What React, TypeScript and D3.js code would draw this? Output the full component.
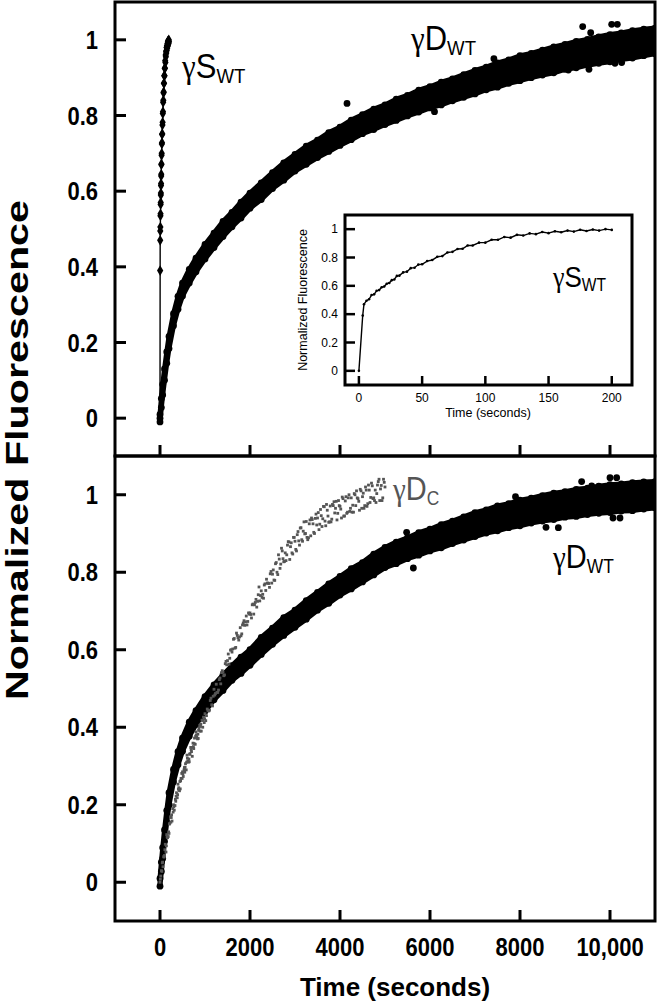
import React from "react";
import * as d3 from "d3";

// ---- gamma-D wild type: sampled band (centre + half spread), both panels ----
const dwtTime = [0, 30, 60, 100, 150, 200, 300, 400, 500, 650, 800, 1000, 1200, 1400, 1600, 1800, 2000, 2250, 2500, 2750, 3000, 3250, 3500, 3750, 4000, 4250, 4500, 4750, 5000, 5250, 5500, 5750, 6000, 6250, 6500, 6750, 7000, 7250, 7500, 7750, 8000, 8250, 8500, 8750, 9000, 9250, 9500, 9750, 10000, 10250, 10500, 10750, 11000];
const dwtTopMid = [0, 0.04, 0.075, 0.115, 0.16, 0.2, 0.26, 0.305, 0.34, 0.375, 0.405, 0.44, 0.47, 0.5, 0.525, 0.55, 0.575, 0.6, 0.628, 0.652, 0.675, 0.695, 0.712, 0.73, 0.745, 0.762, 0.777, 0.79, 0.802, 0.815, 0.826, 0.838, 0.848, 0.858, 0.868, 0.878, 0.888, 0.898, 0.907, 0.916, 0.925, 0.932, 0.94, 0.947, 0.955, 0.961, 0.967, 0.973, 0.978, 0.983, 0.988, 0.993, 0.997];
const dwtBotMid = [0, 0.04, 0.075, 0.12, 0.17, 0.215, 0.275, 0.32, 0.355, 0.395, 0.425, 0.46, 0.49, 0.515, 0.54, 0.56, 0.58, 0.61, 0.635, 0.66, 0.68, 0.703, 0.725, 0.745, 0.765, 0.783, 0.8, 0.82, 0.838, 0.85, 0.862, 0.873, 0.883, 0.893, 0.903, 0.913, 0.923, 0.931, 0.939, 0.946, 0.953, 0.959, 0.965, 0.97, 0.975, 0.979, 0.983, 0.987, 0.99, 0.993, 0.995, 0.998, 1.0];
const dwtSpread = [0.01, 0.012, 0.014, 0.015, 0.015, 0.016, 0.016, 0.017, 0.017, 0.018, 0.018, 0.019, 0.019, 0.02, 0.019, 0.021, 0.02, 0.022, 0.021, 0.023, 0.022, 0.024, 0.023, 0.025, 0.024, 0.026, 0.025, 0.027, 0.026, 0.028, 0.027, 0.029, 0.028, 0.03, 0.029, 0.03, 0.031, 0.03, 0.032, 0.031, 0.033, 0.032, 0.033, 0.034, 0.033, 0.035, 0.034, 0.035, 0.036, 0.035, 0.036, 0.035, 0.034];
const dwtTopOutliers = [[4156, 0.832], [9393, 1.035], [9571, 1.019], [10037, 1.041], [10163, 1.041], [9074, 0.92], [9533, 0.922], [10111, 0.938], [10260, 0.94], [7420, 0.95], [6100, 0.81]];
const dwtBotOutliers = [[9370, 1.034], [9593, 1.023], [10000, 1.044], [10148, 1.044], [8578, 0.916], [8852, 0.915], [10067, 0.94], [10222, 0.94], [5630, 0.811], [5481, 0.903], [7900, 0.995]];

// ---- gamma-S wild type (top panel trace and inset) ----
const swtTime = [0, 3, 4, 6, 8, 10, 12, 14, 16, 18, 20, 22, 24, 26, 28, 30, 32, 35, 38, 41, 44, 47, 50, 54, 58, 62, 66, 70, 74, 78, 82, 86, 90, 95, 100, 105, 110, 115, 120, 125, 130, 135, 140, 145, 150, 155, 160, 165, 170, 175, 180, 185, 190, 195, 200];
const swtVal = [0, 0.39, 0.47, 0.495, 0.505, 0.535, 0.54, 0.565, 0.57, 0.59, 0.595, 0.615, 0.62, 0.64, 0.645, 0.67, 0.672, 0.695, 0.7, 0.725, 0.728, 0.75, 0.752, 0.775, 0.782, 0.805, 0.81, 0.835, 0.84, 0.86, 0.862, 0.885, 0.885, 0.905, 0.905, 0.925, 0.925, 0.945, 0.94, 0.96, 0.955, 0.97, 0.965, 0.98, 0.972, 0.985, 0.978, 0.99, 0.983, 0.996, 0.987, 0.998, 0.99, 1.0, 0.995];

// ---- gamma-D C (grey scatter), run 1 [time, value] ----
const dcRun1 = [
  [0, 0.0], [17, 0.016], [33, 0.03], [50, 0.05], [67, 0.04], [83, 0.066], [100, 0.069], [117, 0.098], [133, 0.078],
  [150, 0.123], [167, 0.115], [183, 0.118], [200, 0.126], [217, 0.152], [233, 0.169], [250, 0.167], [267, 0.158], [283, 0.19],
  [300, 0.2], [317, 0.186], [333, 0.198], [350, 0.209], [367, 0.231], [383, 0.218], [400, 0.253], [417, 0.244], [433, 0.236],
  [450, 0.241], [467, 0.268], [483, 0.281], [500, 0.285], [517, 0.273], [533, 0.29], [550, 0.284], [567, 0.306], [583, 0.29],
  [600, 0.328], [617, 0.312], [633, 0.31], [650, 0.311], [667, 0.332], [683, 0.348], [700, 0.337], [717, 0.325], [733, 0.359],
  [750, 0.345], [767, 0.372], [783, 0.356], [800, 0.388], [817, 0.374], [833, 0.37], [850, 0.371], [867, 0.398], [883, 0.405],
  [900, 0.402], [917, 0.39], [933, 0.418], [950, 0.4], [967, 0.426], [983, 0.412], [1000, 0.435], [1033, 0.43], [1067, 0.443],
  [1100, 0.444], [1133, 0.475], [1167, 0.455], [1200, 0.498], [1233, 0.487], [1267, 0.49], [1300, 0.496], [1333, 0.527], [1367, 0.541],
  [1400, 0.542], [1433, 0.535], [1467, 0.57], [1500, 0.572], [1533, 0.563], [1567, 0.599], [1600, 0.594], [1633, 0.627], [1667, 0.604],
  [1700, 0.643], [1733, 0.631], [1767, 0.633], [1800, 0.636], [1833, 0.664], [1867, 0.675], [1900, 0.672], [1933, 0.664], [1967, 0.695],
  [2000, 0.695], [2033, 0.682], [2067, 0.718], [2100, 0.716], [2133, 0.73], [2167, 0.725], [2200, 0.762], [2233, 0.74], [2267, 0.735],
  [2300, 0.733], [2333, 0.77], [2367, 0.782], [2400, 0.772], [2433, 0.761], [2467, 0.802], [2500, 0.795], [2533, 0.78], [2567, 0.822],
  [2600, 0.8], [2633, 0.845], [2667, 0.81], [2700, 0.862], [2733, 0.835], [2767, 0.828], [2800, 0.83], [2833, 0.87], [2867, 0.878],
  [2900, 0.866], [2933, 0.85], [2967, 0.89], [3000, 0.88], [3033, 0.855], [3067, 0.905], [3100, 0.87], [3133, 0.915], [3167, 0.88],
  [3200, 0.93], [3233, 0.9], [3267, 0.89], [3300, 0.889], [3333, 0.935], [3367, 0.94], [3400, 0.925], [3433, 0.9], [3467, 0.95],
  [3500, 0.94], [3533, 0.91], [3567, 0.962], [3600, 0.918], [3633, 0.97], [3667, 0.932], [3700, 0.975], [3733, 0.945], [3767, 0.93],
  [3800, 0.93], [3833, 0.975], [3867, 0.982], [3900, 0.965], [3933, 0.935], [3967, 0.985], [4000, 0.97], [4033, 0.94], [4067, 0.99],
  [4100, 0.945], [4133, 0.995], [4167, 0.955], [4200, 1.0], [4233, 0.965], [4267, 0.955], [4300, 0.955], [4333, 1.0], [4367, 1.01],
  [4400, 0.99], [4433, 0.96], [4467, 1.01], [4500, 0.995], [4533, 0.965], [4567, 1.02], [4600, 0.97], [4633, 1.025], [4667, 0.98],
  [4700, 1.03], [4733, 0.99], [4767, 0.985], [4800, 0.98], [4833, 1.025], [4867, 1.04], [4900, 1.015], [4933, 0.985], [4967, 1.04],
  [5000, 1.02],
];

// ---- gamma-D C (grey scatter), run 2 [time, value] ----
const dcRun2 = [
  [8, 0.008], [42, 0.028], [58, 0.052], [92, 0.065], [108, 0.084], [142, 0.094], [158, 0.117], [192, 0.13],
  [208, 0.15], [242, 0.155], [258, 0.174], [292, 0.181], [308, 0.195], [342, 0.214], [358, 0.222], [392, 0.226],
  [408, 0.24], [442, 0.26], [458, 0.262], [492, 0.268], [508, 0.28], [542, 0.296], [558, 0.297], [592, 0.31],
  [608, 0.32], [642, 0.318], [658, 0.33], [692, 0.342], [708, 0.348], [742, 0.35], [758, 0.358], [792, 0.377],
  [808, 0.38], [842, 0.382], [858, 0.392], [892, 0.39], [908, 0.408], [942, 0.418], [958, 0.418], [992, 0.422],
  [1017, 0.417], [1050, 0.447], [1083, 0.442], [1117, 0.469], [1150, 0.458], [1183, 0.48], [1217, 0.483], [1250, 0.511], [1283, 0.49],
  [1317, 0.523], [1350, 0.512], [1383, 0.546], [1417, 0.533], [1450, 0.564], [1483, 0.561], [1517, 0.589], [1550, 0.578], [1583, 0.6],
  [1617, 0.602], [1650, 0.629], [1683, 0.606], [1717, 0.637], [1750, 0.625], [1783, 0.657], [1817, 0.641], [1850, 0.669], [1883, 0.663],
  [1917, 0.687], [1950, 0.673], [1983, 0.692], [2017, 0.691], [2050, 0.716], [2083, 0.692], [2117, 0.722], [2150, 0.71], [2183, 0.742],
  [2217, 0.726], [2250, 0.752], [2283, 0.743], [2317, 0.767], [2350, 0.753], [2383, 0.772], [2417, 0.771], [2450, 0.796], [2483, 0.772],
  [2517, 0.806], [2550, 0.779], [2583, 0.825], [2617, 0.794], [2650, 0.834], [2683, 0.821], [2717, 0.855], [2750, 0.827], [2783, 0.85],
  [2817, 0.845], [2850, 0.879], [2883, 0.833], [2917, 0.876], [2950, 0.847], [2983, 0.89], [3017, 0.859], [3050, 0.897], [3083, 0.881],
  [3117, 0.914], [3150, 0.884], [3183, 0.906], [3217, 0.899], [3250, 0.931], [3283, 0.884], [3317, 0.925], [3350, 0.894], [3383, 0.936],
  [3417, 0.903], [3450, 0.939], [3483, 0.922], [3517, 0.954], [3550, 0.924], [3583, 0.946], [3617, 0.938], [3650, 0.969], [3683, 0.92],
  [3717, 0.96], [3750, 0.929], [3783, 0.971], [3817, 0.937], [3850, 0.972], [3883, 0.953], [3917, 0.983], [3950, 0.952], [3983, 0.972],
  [4017, 0.963], [4050, 0.994], [4083, 0.945], [4117, 0.984], [4150, 0.952], [4183, 0.992], [4217, 0.957], [4250, 0.992], [4283, 0.973],
  [4317, 1.003], [4350, 0.972], [4383, 0.992], [4417, 0.983], [4450, 1.014], [4483, 0.965], [4517, 1.004], [4550, 0.972], [4583, 1.012],
  [4617, 0.977], [4650, 1.012], [4683, 0.993], [4717, 1.023], [4750, 0.992], [4783, 1.012], [4817, 1.003], [4850, 1.034], [4883, 0.985],
  [4917, 1.024], [4950, 0.992], [4983, 1.032],
];

const xTicks = [0, 2000, 4000, 6000, 8000, 10000];
const xTickLabels = ["0", "2000", "4000", "6000", "8000", "10,000"];
const yTicks = [0, 0.2, 0.4, 0.6, 0.8, 1];
const yTickLabels = ["0", "0.2", "0.4", "0.6", "0.8", "1"];
const insetXTicks = [0, 50, 100, 150, 200];
const insetXTickLabels = ["0", "50", "100", "150", "200"];

const sans = "'Liberation Sans', Arial, Helvetica, sans-serif";
const greek = "'Liberation Serif', 'Times New Roman', serif";
const grey = "#555";

const x = d3.scaleLinear().domain([-1000, 11000]).range([115, 655]);
const yTop = d3.scaleLinear().domain([-0.1, 1.1]).range([456, 2]);
const yBot = d3.scaleLinear().domain([-0.1, 1.1]).range([921, 456]);
const ix = d3.scaleLinear().domain([-11, 216]).range([345, 632]);
const iy = d3.scaleLinear().domain([-0.1, 1.1]).range([385, 215]);

function Species({ px, py, size, main, sub, fill = "#000" }) {
  return (
    <text transform={`translate(${px},${py}) scale(1,1.12)`} fontFamily={sans} fontSize={size} fill={fill}>
      <tspan fontFamily={greek}>γ</tspan>
      <tspan>{main}</tspan>
      <tspan fontSize={size * 0.6} dy={size * 0.14}>{sub}</tspan>
    </text>
  );
}

function Band({ y, mid, outliers }) {
  const area = d3
    .area<number>()
    .x((_, i) => x(dwtTime[i]))
    .y0((d, i) => y(d - dwtSpread[i]))
    .y1((d, i) => y(d + dwtSpread[i]));
  return (
    <g>
      <path d={area(mid) || ""} fill="#000" stroke="#000" strokeWidth={5} strokeLinejoin="round" />
      {mid.map((d, i) => (
        <g key={i}>
          <circle cx={x(dwtTime[i])} cy={y(d + dwtSpread[i])} r={3.4} fill="#000" />
          <circle cx={x(dwtTime[i])} cy={y(d - dwtSpread[i])} r={3.4} fill="#000" />
        </g>
      ))}
      {outliers.map(([t, v], i) => (
        <circle key={"o" + i} cx={x(t)} cy={y(v)} r={3.4} fill="#000" />
      ))}
    </g>
  );
}

function YAxis({ y }) {
  return (
    <g>
      {yTicks.map((t, i) => (
        <g key={i}>
          <line x1={115} x2={126} y1={y(t)} y2={y(t)} stroke="#000" strokeWidth={3} />
          <text
            transform={`translate(98,${y(t)}) scale(1,1.15)`}
            dy="0.36em"
            textAnchor="end"
            fontFamily={sans}
            fontWeight="bold"
            fontSize={22}
          >
            {yTickLabels[i]}
          </text>
        </g>
      ))}
    </g>
  );
}

function XTicks({ yb }) {
  return (
    <g>
      {xTicks.map((t, i) => (
        <line key={i} x1={x(t)} x2={x(t)} y1={yb} y2={yb - 11} stroke="#000" strokeWidth={3} />
      ))}
    </g>
  );
}

export default function App() {
  const swtLineTop = d3
    .line<number>()
    .x((_, i) => x(swtTime[i]))
    .y((d) => yTop(d))(swtVal);
  const swtLineInset = d3
    .line<number>()
    .x((_, i) => ix(swtTime[i]))
    .y((d) => iy(d))(swtVal);
  const diamond = d3.symbol(d3.symbolDiamond, 34)();
  const dcAll = [...dcRun1, ...dcRun2];

  return (
    <svg width={660} height={1002} style={{ position: "absolute", left: 0, top: 0, background: "#fff" }}>
      <defs>
        <clipPath id="clipTop">
          <rect x={115} y={2} width={540} height={454} />
        </clipPath>
        <clipPath id="clipBot">
          <rect x={115} y={456} width={540} height={465} />
        </clipPath>
      </defs>
      <rect x={0} y={0} width={660} height={1002} fill="#fff" />

      {/* top panel */}
      <g clipPath="url(#clipTop)">
        <Band y={yTop} mid={dwtTopMid} outliers={dwtTopOutliers} />
        <path d={swtLineTop || ""} fill="none" stroke="#000" strokeWidth={1.4} />
        {swtVal.map((v, i) =>
          i === 0 ? (
            <circle key={i} cx={x(swtTime[i])} cy={yTop(v)} r={3.4} fill="#000" />
          ) : (
            <path key={i} d={diamond || ""} transform={`translate(${x(swtTime[i])},${yTop(v)})`} fill="#000" />
          )
        )}
      </g>
      <YAxis y={yTop} />
      <XTicks yb={456} />
      <rect x={115} y={2} width={540} height={454} fill="none" stroke="#000" strokeWidth={3} />

      {/* inset */}
      <rect x={345} y={215} width={287} height={170} fill="#fff" stroke="#000" strokeWidth={3} />
      <path d={swtLineInset || ""} fill="none" stroke="#000" strokeWidth={1.4} />
      {swtVal.map((v, i) => (
        <circle key={i} cx={ix(swtTime[i])} cy={iy(v)} r={1.3} fill="#000" />
      ))}
      {yTicks.map((t, i) => (
        <g key={i}>
          <line x1={345} x2={355} y1={iy(t)} y2={iy(t)} stroke="#000" strokeWidth={2.5} />
          <text x={338} y={iy(t)} dy="0.36em" textAnchor="end" fontFamily={sans} fontSize={12}>
            {yTickLabels[i]}
          </text>
        </g>
      ))}
      {insetXTicks.map((t, i) => (
        <g key={i}>
          <line x1={ix(t)} x2={ix(t)} y1={385} y2={376} stroke="#000" strokeWidth={2.5} />
          <text x={ix(t)} y={402} textAnchor="middle" fontFamily={sans} fontSize={12}>
            {insetXTickLabels[i]}
          </text>
        </g>
      ))}
      <text transform="translate(307,300) rotate(-90)" textAnchor="middle" fontFamily={sans} fontSize={12.5}>
        Normalized Fluorescence
      </text>
      <text x={488} y={417} textAnchor="middle" fontFamily={sans} fontSize={12.5}>
        Time (seconds)
      </text>
      <Species px={553} py={287} size={26} main="S" sub="WT" />

      <Species px={182} py={78} size={31} main="S" sub="WT" />
      <Species px={411} py={50} size={31} main="D" sub="WT" />

      {/* bottom panel */}
      <g clipPath="url(#clipBot)">
        <Band y={yBot} mid={dwtBotMid} outliers={dwtBotOutliers} />
        {dcAll.map(([t, v], i) => (
          <rect key={i} x={x(t) - 1.4} y={yBot(v) - 1.4} width={2.8} height={2.8} fill={grey} />
        ))}
      </g>
      <YAxis y={yBot} />
      <XTicks yb={921} />
      <rect x={115} y={456} width={540} height={465} fill="none" stroke="#000" strokeWidth={3} />
      <Species px={393} py={500} size={29} main="D" sub="C" fill={grey} />
      <Species px={553} py={568} size={29} main="D" sub="WT" />

      {/* x tick labels and titles */}
      {xTicks.map((t, i) => (
        <text
          key={i}
          transform={`translate(${x(t)},956) scale(1,1.15)`}
          textAnchor="middle"
          fontFamily={sans}
          fontWeight="bold"
          fontSize={22}
        >
          {xTickLabels[i]}
        </text>
      ))}
      <text x={395} y={996} textAnchor="middle" fontFamily={sans} fontWeight="bold" fontSize={26}>
        Time (seconds)
      </text>
      <text
        transform="translate(28,450) rotate(-90)"
        textAnchor="middle"
        fontFamily={sans}
        fontWeight="bold"
        fontSize={31}
        textLength={500}
        lengthAdjust="spacingAndGlyphs"
      >
        Normalized Fluorescence
      </text>
    </svg>
  );
}
